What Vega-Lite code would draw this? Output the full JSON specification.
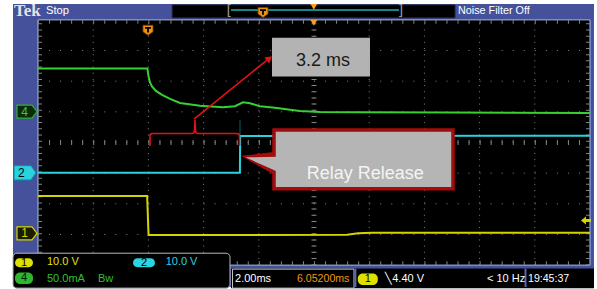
{
  "$schema": "https://vega.github.io/schema/vega-lite/v6.json",
  "width": 597,
  "height": 289,
  "autosize": {"type": "fit", "contains": "padding"},
  "padding": 0,
  "background": "#ffffff",
  "config": {
    "view": {"stroke": null},
    "axis": {"disable": true},
    "text": {"font": "Liberation Sans, sans-serif"}
  },
  "datasets": {
    "traces": [
      {"ch": "CH4", "t": -4.0, "v": 2.41},
      {"ch": "CH4", "t": -0.036, "v": 2.41},
      {"ch": "CH4", "t": 0.0, "v": 2.186},
      {"ch": "CH4", "t": 0.058, "v": 1.96},
      {"ch": "CH4", "t": 0.13, "v": 1.83},
      {"ch": "CH4", "t": 0.275, "v": 1.684},
      {"ch": "CH4", "t": 0.493, "v": 1.555},
      {"ch": "CH4", "t": 0.783, "v": 1.425},
      {"ch": "CH4", "t": 1.145, "v": 1.29},
      {"ch": "CH4", "t": 1.87, "v": 1.198},
      {"ch": "CH4", "t": 2.703, "v": 1.15},
      {"ch": "CH4", "t": 3.138, "v": 1.182},
      {"ch": "CH4", "t": 3.428, "v": 1.312},
      {"ch": "CH4", "t": 3.681, "v": 1.279},
      {"ch": "CH4", "t": 4.043, "v": 1.182},
      {"ch": "CH4", "t": 4.587, "v": 1.134},
      {"ch": "CH4", "t": 5.13, "v": 1.069},
      {"ch": "CH4", "t": 5.493, "v": 1.027},
      {"ch": "CH4", "t": 6.217, "v": 0.998},
      {"ch": "CH4", "t": 7.667, "v": 0.988},
      {"ch": "CH4", "t": 10.928, "v": 0.978},
      {"ch": "CH4", "t": 16.0, "v": 0.965},
      {"ch": "CH2", "t": -4.0, "v": -0.99},
      {"ch": "CH2", "t": 3.315, "v": -0.99},
      {"ch": "CH2", "t": 3.325, "v": 0.21},
      {"ch": "CH2", "t": 16.0, "v": 0.22},
      {"ch": "CH1", "t": -4.0, "v": -1.743},
      {"ch": "CH1", "t": -0.045, "v": -1.743},
      {"ch": "CH1", "t": 0.005, "v": -3.018},
      {"ch": "CH1", "t": 7.2, "v": -3.01},
      {"ch": "CH1", "t": 7.6, "v": -2.96},
      {"ch": "CH1", "t": 8.1, "v": -2.945},
      {"ch": "CH1", "t": 16.0, "v": -2.942}
    ],
    "gridT": [{"t": -2}, {"t": 0}, {"t": 2}, {"t": 4}, {"t": 6}, {"t": 8}, {"t": 10}, {"t": 12}, {"t": 14}],
    "gridV": [{"v": -3}, {"v": -2}, {"v": -1}, {"v": 0}, {"v": 1}, {"v": 2}, {"v": 3}]
  },
  "layer": [
    {"data": {"values": [{}]}, "mark": {"type": "rect", "color": "#46519b"},
     "encoding": {"x": {"datum": -4.906, "scale": {"domain": [-5.377, 16.254], "nice": false, "zero": false}}, "x2": {"datum": 16.145}, "y": {"datum": 4.518, "scale": {"domain": [-4.713, 4.648], "nice": false, "zero": false}}, "y2": {"datum": -4.713}}},
    {"data": {"values": [{}]}, "mark": {"type": "rect", "color": "#000000", "stroke": "#22223a", "strokeWidth": 1},
     "encoding": {"x": {"datum": 0.862}, "x2": {"datum": 11.109}, "y": {"datum": 4.486}, "y2": {"datum": 4.065}}},
    {"data": {"values": [{}]}, "mark": {"type": "rule", "color": "#1fb6b6", "strokeWidth": 1.5},
     "encoding": {"x": {"datum": 2.993}, "x2": {"datum": 9.08}, "y": {"datum": 4.324}}},
    {"data": {"values": [{"label": "["}]}, "mark": {"type": "text", "align": "center", "baseline": "middle", "fontSize": 14, "color": "#9a9a9a", "font": "DejaVu Sans"},
     "encoding": {"x": {"datum": 2.93}, "y": {"datum": 4.28}, "text": {"field": "label"}}},
    {"data": {"values": [{"label": "]"}]}, "mark": {"type": "text", "align": "center", "baseline": "middle", "fontSize": 14, "color": "#9a9a9a", "font": "DejaVu Sans"},
     "encoding": {"x": {"datum": 9.13}, "y": {"datum": 4.28}, "text": {"field": "label"}}},
    {"data": {"values": [{"label": "Tek"}]}, "mark": {"type": "text", "align": "left", "baseline": "middle", "fontSize": 17, "fontWeight": "bold", "color": "#e2e2e2", "font": "Liberation Serif"},
     "encoding": {"x": {"datum": -4.87}, "y": {"datum": 4.29}, "text": {"field": "label"}}},
    {"data": {"values": [{"label": "Stop"}]}, "mark": {"type": "text", "align": "left", "baseline": "middle", "fontSize": 11.2, "color": "#ffffff"},
     "encoding": {"x": {"datum": -3.71}, "y": {"datum": 4.275}, "text": {"field": "label"}}},
    {"data": {"values": [{"label": "Noise Filter Off"}]}, "mark": {"type": "text", "align": "left", "baseline": "middle", "fontSize": 10.8, "color": "#ffffff"},
     "encoding": {"x": {"datum": 11.217}, "y": {"datum": 4.275}, "text": {"field": "label"}}},

    {"data": {"values": [{}]}, "mark": {"type": "rect", "color": "#000000", "stroke": "#a4c2ec", "strokeWidth": 1},
     "encoding": {"x": {"datum": -4.0}, "x2": {"datum": 16.0}, "y": {"datum": 4.0}, "y2": {"datum": -4.0}}},
    {"data": {"name": "gridT"}, "mark": {"type": "rule", "color": "#858585", "strokeWidth": 1, "strokeDash": [1, 5.175]},
     "encoding": {"x": {"field": "t", "type": "quantitative"}, "y": {"datum": -4.0}, "y2": {"datum": 4.0}}},
    {"data": {"name": "gridV"}, "mark": {"type": "rule", "color": "#858585", "strokeWidth": 1, "strokeDash": [1, 10.04]},
     "encoding": {"x": {"datum": -4.0}, "x2": {"datum": 16.0}, "y": {"field": "v", "type": "quantitative"}}},
    {"data": {"values": [{}]}, "mark": {"type": "rule", "color": "#858585", "strokeWidth": 5, "strokeDash": [1, 10.04]},
     "encoding": {"x": {"datum": -4.0}, "x2": {"datum": 16.0}, "y": {"datum": 0}}},
    {"data": {"values": [{}]}, "mark": {"type": "rule", "color": "#858585", "strokeWidth": 5, "strokeDash": [1, 5.175]},
     "encoding": {"x": {"datum": 6.0}, "y": {"datum": -4.0}, "y2": {"datum": 4.0}}},
    {"data": {"values": [{}]}, "mark": {"type": "rule", "color": "#858585", "strokeWidth": 4, "strokeDash": [1, 10.04]},
     "encoding": {"x": {"datum": -4.0}, "x2": {"datum": 16.0}, "y": {"datum": 3.935}}},
    {"data": {"values": [{}]}, "mark": {"type": "rule", "color": "#858585", "strokeWidth": 4, "strokeDash": [1, 10.04]},
     "encoding": {"x": {"datum": -4.0}, "x2": {"datum": 16.0}, "y": {"datum": -3.935}}},
    {"data": {"values": [{}]}, "mark": {"type": "rule", "color": "#858585", "strokeWidth": 4, "strokeDash": [1, 5.175]},
     "encoding": {"x": {"datum": -3.928}, "y": {"datum": -4.0}, "y2": {"datum": 4.0}}},
    {"data": {"values": [{}]}, "mark": {"type": "rule", "color": "#858585", "strokeWidth": 4, "strokeDash": [1, 5.175]},
     "encoding": {"x": {"datum": 15.928}, "y": {"datum": -4.0}, "y2": {"datum": 4.0}}},

    {"data": {"values": [{}]}, "mark": {"type": "rule", "color": "#0e6068", "strokeWidth": 1},
     "encoding": {"x": {"datum": 3.319}, "y": {"datum": 0.725}, "y2": {"datum": -0.99}}},
    {"data": {"name": "traces"}, "mark": {"type": "line", "strokeWidth": 2, "interpolate": "linear"},
     "encoding": {
       "x": {"field": "t", "type": "quantitative", "scale": {"domain": [-5.377, 16.254], "nice": false, "zero": false}, "axis": null},
       "y": {"field": "v", "type": "quantitative", "scale": {"domain": [-4.713, 4.648], "nice": false, "zero": false}, "axis": null},
       "color": {"field": "ch", "type": "nominal", "scale": {"domain": ["CH1", "CH2", "CH4"], "range": ["#d4d400", "#28d2de", "#34d034"]}, "legend": null}}},

    {"data": {"values": [{}]}, "mark": {"type": "point", "shape": "M -4.5 1.3 L -4.5 0.3 Q -4.5 0.05 -4.25 0.05 L -0.3 0.05 Q -0.05 0.05 -0.05 -0.25 L 0 -1.3 L 0.05 -0.25 Q 0.05 0.05 0.3 0.05 L 4.2 0.05 Q 4.45 0.05 4.45 0.3 L 4.45 1.3", "size": 400, "filled": false, "stroke": "#e01414", "strokeWidth": 1.6, "opacity": 1},
     "encoding": {"x": {"datum": 1.688}, "y": {"datum": 0.308}}},
    {"data": {"values": [{}]}, "mark": {"type": "rule", "color": "#e01414", "strokeWidth": 1.6},
     "encoding": {"x": {"datum": 1.652}, "y": {"datum": 0.761}, "x2": {"datum": 4.37}, "y2": {"datum": 2.74}}},
    {"data": {"values": [{}]}, "mark": {"type": "point", "shape": "triangle", "size": 60, "filled": true, "color": "#e01414", "opacity": 1, "angle": 51.6},
     "encoding": {"x": {"datum": 4.35}, "y": {"datum": 2.72}}},

    {"data": {"values": [{}]}, "mark": {"type": "rect", "color": "#b3b3b3"},
     "encoding": {"x": {"datum": 4.478}, "x2": {"datum": 8.029}, "y": {"datum": 3.417}, "y2": {"datum": 2.154}}},
    {"data": {"values": [{"label": "3.2 ms"}]}, "mark": {"type": "text", "align": "left", "baseline": "alphabetic", "fontSize": 18, "color": "#1a1a1a", "font": "Liberation Sans"},
     "encoding": {"x": {"datum": 5.348}, "y": {"datum": 2.494}, "text": {"field": "label"}}},

    {"data": {"values": [{}]}, "mark": {"type": "point", "shape": "M -1.7 -0.8 L 1.8 -1.2 L 1.8 1.2 Z", "size": 400, "filled": true, "color": "#a30c0c", "opacity": 1},
     "encoding": {"x": {"datum": 3.971}, "y": {"datum": -0.696}}},
    {"data": {"values": [{}]}, "mark": {"type": "rect", "color": "#b5b5b5", "stroke": "#a30c0c", "strokeWidth": 3.5},
     "encoding": {"x": {"datum": 4.551}, "x2": {"datum": 11.036}, "y": {"datum": 0.405}, "y2": {"datum": -1.506}}},
    {"data": {"values": [{}]}, "mark": {"type": "point", "shape": "M -1.25 -0.65 L 2.2 -0.7 L 2.2 0.9 Z", "size": 400, "filled": true, "color": "#b5b5b5", "opacity": 1},
     "encoding": {"x": {"datum": 3.971}, "y": {"datum": -0.696}}},
    {"data": {"values": [{"label": "Relay Release"}]}, "mark": {"type": "text", "align": "left", "baseline": "alphabetic", "fontSize": 18, "color": "#f4f4f4", "font": "Liberation Sans"},
     "encoding": {"x": {"datum": 5.739}, "y": {"datum": -1.182}, "text": {"field": "label"}}},

    {"data": {"values": [{}]}, "mark": {"type": "point", "shape": "M -1 -1 L 1 -1 L 1 0.3 L 0 1 L -1 0.3 Z", "size": 100, "filled": true, "color": "#f0900c", "stroke": "#7a4200", "strokeWidth": 0.8, "opacity": 1},
     "encoding": {"x": {"datum": -0.014}, "y": {"datum": 3.66}}},
    {"data": {"values": [{}]}, "mark": {"type": "point", "shape": "M -0.6 -0.65 L 0.6 -0.65 L 0.6 -0.3 L 0.18 -0.3 L 0.18 0.45 L -0.18 0.45 L -0.18 -0.3 L -0.6 -0.3 Z", "size": 100, "filled": true, "color": "#000000", "opacity": 1},
     "encoding": {"x": {"datum": -0.014}, "y": {"datum": 3.66}}},
    {"data": {"values": [{}]}, "mark": {"type": "point", "shape": "M -1 -1 L 1 -1 L 1 0.3 L 0 1 L -1 0.3 Z", "size": 100, "filled": true, "color": "#f0900c", "stroke": "#7a4200", "strokeWidth": 0.8, "opacity": 1},
     "encoding": {"x": {"datum": 4.152}, "y": {"datum": 4.243}}},
    {"data": {"values": [{}]}, "mark": {"type": "point", "shape": "M -0.6 -0.65 L 0.6 -0.65 L 0.6 -0.3 L 0.18 -0.3 L 0.18 0.45 L -0.18 0.45 L -0.18 -0.3 L -0.6 -0.3 Z", "size": 100, "filled": true, "color": "#000000", "opacity": 1},
     "encoding": {"x": {"datum": 4.152}, "y": {"datum": 4.243}}},
    {"data": {"values": [{}]}, "mark": {"type": "point", "shape": "triangle-down", "size": 45, "filled": true, "color": "#f5a21e", "opacity": 1},
     "encoding": {"x": {"datum": 5.993}, "y": {"datum": 4.421}}},
    {"data": {"values": [{}]}, "mark": {"type": "point", "shape": "triangle-down", "size": 45, "filled": true, "color": "#f5a21e", "opacity": 1},
     "encoding": {"x": {"datum": 5.993}, "y": {"datum": 3.9}}},
    {"data": {"values": [{}]}, "mark": {"type": "point", "shape": "M -1 0 L 0 -0.8 L 0 -0.3 L 1 -0.3 L 1 0.3 L 0 0.3 L 0 0.8 Z", "size": 100, "filled": true, "color": "#d4d400", "opacity": 1},
     "encoding": {"x": {"datum": 15.855}, "y": {"datum": -2.543}}},

    {"data": {"values": [{}]}, "mark": {"type": "point", "shape": "M -1 -0.65 L 0.5 -0.65 L 1 0 L 0.5 0.65 L -1 0.65 Z", "size": 400, "filled": true, "color": "#0d2a0d", "stroke": "#2fb02f", "strokeWidth": 1.2, "opacity": 1},
     "encoding": {"x": {"datum": -4.399}, "y": {"datum": 1.004}}},
    {"data": {"values": [{"label": "4"}]}, "mark": {"type": "text", "align": "center", "baseline": "middle", "fontSize": 12, "color": "#34d034"},
     "encoding": {"x": {"datum": -4.49}, "y": {"datum": 1.004}, "text": {"field": "label"}}},
    {"data": {"values": [{}]}, "mark": {"type": "point", "shape": "M -1 -0.65 L 0.55 -0.65 L 1 0 L 0.55 0.65 L -1 0.65 Z", "size": 480, "filled": true, "color": "#28d2de", "stroke": "#0f8f99", "strokeWidth": 1, "opacity": 1},
     "encoding": {"x": {"datum": -4.471}, "y": {"datum": -0.988}}},
    {"data": {"values": [{"label": "2"}]}, "mark": {"type": "text", "align": "center", "baseline": "middle", "fontSize": 12, "color": "#000000"},
     "encoding": {"x": {"datum": -4.6}, "y": {"datum": -0.988}, "text": {"field": "label"}}},
    {"data": {"values": [{}]}, "mark": {"type": "point", "shape": "M -1 -0.65 L 0.5 -0.65 L 1 0 L 0.5 0.65 L -1 0.65 Z", "size": 400, "filled": true, "color": "#1c1c00", "stroke": "#d4d400", "strokeWidth": 1.2, "opacity": 1},
     "encoding": {"x": {"datum": -4.399}, "y": {"datum": -2.964}}},
    {"data": {"values": [{"label": "1"}]}, "mark": {"type": "text", "align": "center", "baseline": "middle", "fontSize": 12, "color": "#d4d400"},
     "encoding": {"x": {"datum": -4.49}, "y": {"datum": -2.964}, "text": {"field": "label"}}},

    {"data": {"values": [{}]}, "mark": {"type": "rect", "color": "#000000", "stroke": "#b8b8b8", "strokeWidth": 1, "cornerRadius": 4},
     "encoding": {"x": {"datum": -4.906}, "x2": {"datum": 2.957}, "y": {"datum": -3.611}, "y2": {"datum": -4.75}}},
    {"data": {"values": [{}]}, "mark": {"type": "rect", "color": "#000000"},
     "encoding": {"x": {"datum": 2.993}, "x2": {"datum": 16.145}, "y": {"datum": -4.113}, "y2": {"datum": -4.75}}},
    {"data": {"values": [{}]}, "mark": {"type": "rect", "filled": false, "stroke": "#c4c4c4", "strokeWidth": 1},
     "encoding": {"x": {"datum": 3.047}, "x2": {"datum": 7.449}, "y": {"datum": -4.13}, "y2": {"datum": -4.75}}},
    {"data": {"values": [{}]}, "mark": {"type": "rule", "color": "#5a66b0", "strokeWidth": 2},
     "encoding": {"x": {"datum": 7.5}, "y": {"datum": -4.113}, "y2": {"datum": -4.713}}},
    {"data": {"values": [{}]}, "mark": {"type": "rule", "color": "#5a66b0", "strokeWidth": 2},
     "encoding": {"x": {"datum": 13.663}, "y": {"datum": -4.113}, "y2": {"datum": -4.713}}},

    {"data": {"values": [{}]}, "mark": {"type": "rect", "color": "#e0e000", "cornerRadius": 5},
     "encoding": {"x": {"datum": -4.833}, "x2": {"datum": -4.181}, "y": {"datum": -3.773}, "y2": {"datum": -4.065}}},
    {"data": {"values": [{}]}, "mark": {"type": "rect", "color": "#2ad4e0", "cornerRadius": 5},
     "encoding": {"x": {"datum": -0.558}, "x2": {"datum": 0.239}, "y": {"datum": -3.773}, "y2": {"datum": -4.065}}},
    {"data": {"values": [{}]}, "mark": {"type": "rect", "color": "#2fb52f", "cornerRadius": 5},
     "encoding": {"x": {"datum": -4.833}, "x2": {"datum": -4.181}, "y": {"datum": -4.243}, "y2": {"datum": -4.615}}},
    {"data": {"values": [{}]}, "mark": {"type": "rect", "color": "#e0e000", "cornerRadius": 5},
     "encoding": {"x": {"datum": 7.587}, "x2": {"datum": 8.312}, "y": {"datum": -4.275}, "y2": {"datum": -4.648}}},
    {"data": {"values": [{"label": "1"}]}, "mark": {"type": "text", "align": "center", "baseline": "middle", "fontSize": 11, "color": "#000000"},
     "encoding": {"x": {"datum": -4.507}, "y": {"datum": -3.919}, "text": {"field": "label"}}},
    {"data": {"values": [{"label": "2"}]}, "mark": {"type": "text", "align": "center", "baseline": "middle", "fontSize": 11, "color": "#000000"},
     "encoding": {"x": {"datum": -0.159}, "y": {"datum": -3.919}, "text": {"field": "label"}}},
    {"data": {"values": [{"label": "4"}]}, "mark": {"type": "text", "align": "center", "baseline": "middle", "fontSize": 11, "color": "#002000"},
     "encoding": {"x": {"datum": -4.507}, "y": {"datum": -4.43}, "text": {"field": "label"}}},
    {"data": {"values": [{"label": "1"}]}, "mark": {"type": "text", "align": "center", "baseline": "middle", "fontSize": 11, "color": "#000000"},
     "encoding": {"x": {"datum": 7.95}, "y": {"datum": -4.46}, "text": {"field": "label"}}},

    {"data": {"values": [{"label": "10.0 V"}]}, "mark": {"type": "text", "align": "left", "baseline": "middle", "fontSize": 11, "color": "#e0e000"},
     "encoding": {"x": {"datum": -3.674}, "y": {"datum": -3.903}, "text": {"field": "label"}}},
    {"data": {"values": [{"label": "10.0 V"}]}, "mark": {"type": "text", "align": "left", "baseline": "middle", "fontSize": 11, "color": "#2ad4e0"},
     "encoding": {"x": {"datum": 0.625}, "y": {"datum": -3.903}, "text": {"field": "label"}}},
    {"data": {"values": [{"label": "50.0mA"}]}, "mark": {"type": "text", "align": "left", "baseline": "middle", "fontSize": 11, "color": "#2fc02f"},
     "encoding": {"x": {"datum": -3.674}, "y": {"datum": -4.453}, "text": {"field": "label"}}},
    {"data": {"values": [{"label": "Bw"}]}, "mark": {"type": "text", "align": "left", "baseline": "middle", "fontSize": 11, "color": "#2fc02f"},
     "encoding": {"x": {"datum": -1.826}, "y": {"datum": -4.453}, "text": {"field": "label"}}},
    {"data": {"values": [{"label": "2.00ms"}]}, "mark": {"type": "text", "align": "left", "baseline": "middle", "fontSize": 11, "color": "#ffffff"},
     "encoding": {"x": {"datum": 3.138}, "y": {"datum": -4.444}, "text": {"field": "label"}}},
    {"data": {"values": [{"label": "6.05200ms"}]}, "mark": {"type": "text", "align": "left", "baseline": "middle", "fontSize": 10.6, "color": "#f0960c"},
     "encoding": {"x": {"datum": 5.384}, "y": {"datum": -4.444}, "text": {"field": "label"}}},
    {"data": {"values": [{"label": "╲4.40 V"}]}, "mark": {"type": "text", "align": "left", "baseline": "middle", "fontSize": 11, "color": "#ffffff"},
     "encoding": {"x": {"datum": 8.58}, "y": {"datum": -4.444}, "text": {"field": "label"}}},
    {"data": {"values": [{"label": "< 10 Hz"}]}, "mark": {"type": "text", "align": "left", "baseline": "middle", "fontSize": 11, "color": "#ffffff"},
     "encoding": {"x": {"datum": 12.268}, "y": {"datum": -4.444}, "text": {"field": "label"}}},
    {"data": {"values": [{"label": "19:45:37"}]}, "mark": {"type": "text", "align": "left", "baseline": "middle", "fontSize": 10.6, "color": "#ffffff"},
     "encoding": {"x": {"datum": 13.754}, "y": {"datum": -4.444}, "text": {"field": "label"}}}
  ]
}
